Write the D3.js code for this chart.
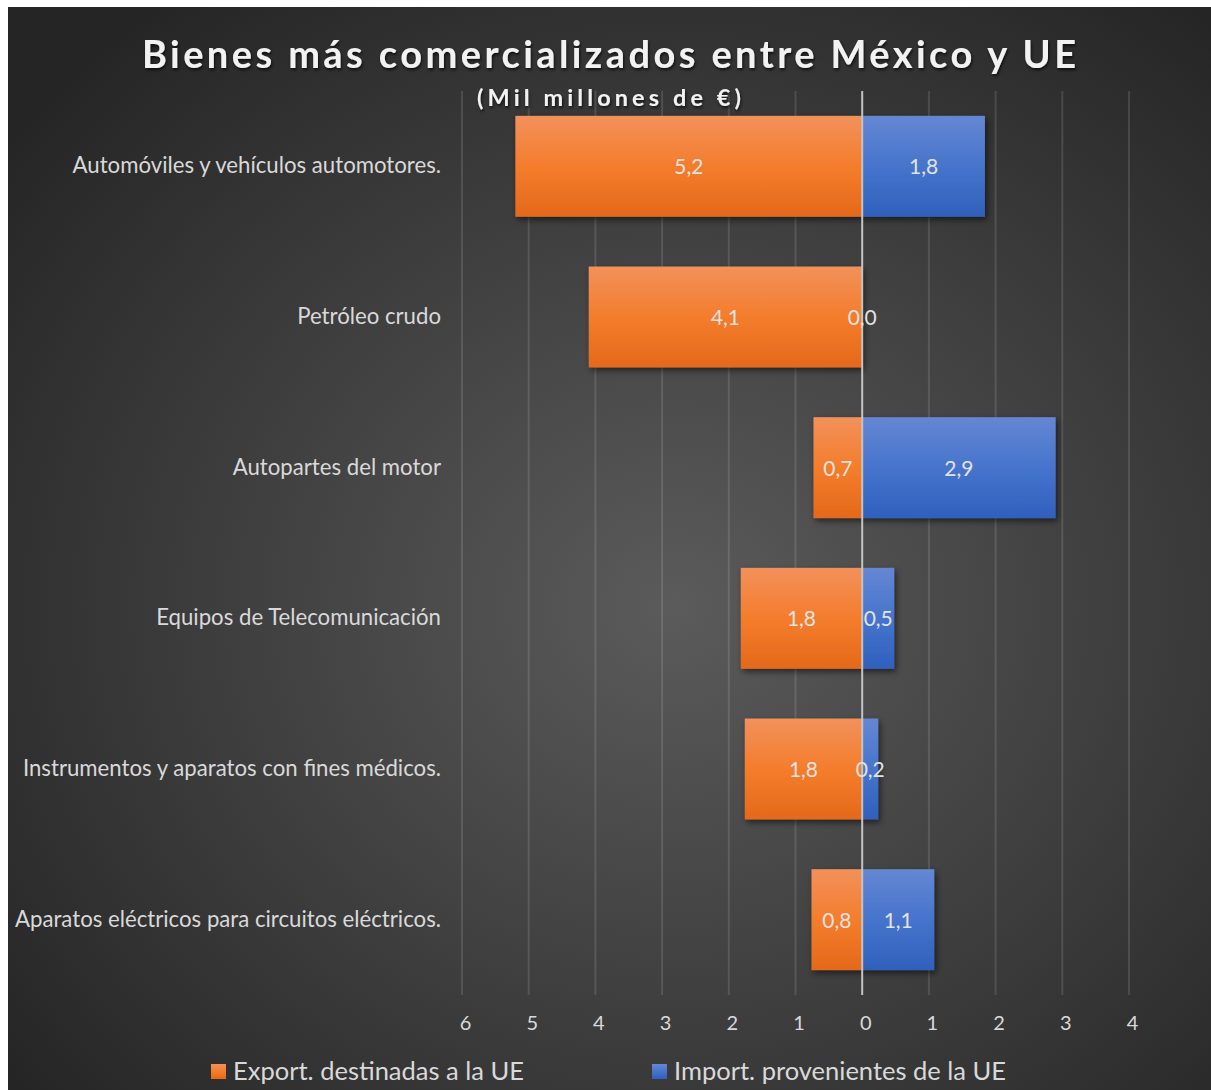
<!DOCTYPE html>
<html>
<head>
<meta charset="utf-8">
<script src="https://cdn.jsdelivr.net/npm/d3@7"></script>
<style>
  body { margin: 0; background: #fff; }
  svg { display: block; }
  text { font-family: Lato, "Open Sans", sans-serif; }
</style>
</head>
<body>
<svg id="chart" width="1211" height="1090"></svg>
<script>
var categories = [
  "Automóviles y vehículos automotores.",
  "Petróleo crudo",
  "Autopartes del motor",
  "Equipos de Telecomunicación",
  "Instrumentos y aparatos con fines médicos.",
  "Aparatos eléctricos para circuitos eléctricos."
];
var exportsUE = [5.2, 4.1, 0.73, 1.82, 1.76, 0.76];
var importsUE = [1.84, 0.0, 2.9, 0.48, 0.24, 1.08];
var tickValues = [-6, -5, -4, -3, -2, -1, 0, 1, 2, 3, 4];
var seriesNames = ["Export. destinadas a la UE", "Import. provenientes de la UE"];

var svg = d3.select("#chart");
var defs = svg.append("defs");

var bg = defs.append("radialGradient").attr("id", "bg")
    .attr("cx", "55%").attr("cy", "55%").attr("r", "70%");
bg.append("stop").attr("offset", "0%").attr("stop-color", "#5b5b5b");
bg.append("stop").attr("offset", "100%").attr("stop-color", "#252525");

function vgrad(id, top, mid, bottom) {
  var g = defs.append("linearGradient").attr("id", id)
      .attr("x1", 0).attr("y1", 0).attr("x2", 0).attr("y2", 1);
  g.append("stop").attr("offset", "0%").attr("stop-color", top);
  g.append("stop").attr("offset", "50%").attr("stop-color", mid);
  g.append("stop").attr("offset", "100%").attr("stop-color", bottom);
}
vgrad("gOrange", "#f2915b", "#f47d2c", "#e4691a");
vgrad("gBlue", "#6587d3", "#4674cc", "#2f60bc");

var shadow = defs.append("filter").attr("id", "shadow")
    .attr("x", "-10%").attr("y", "-10%").attr("width", "130%").attr("height", "140%");
shadow.append("feDropShadow").attr("dx", 2).attr("dy", 3)
    .attr("stdDeviation", 3).attr("flood-color", "#000").attr("flood-opacity", 0.55);

var tshadow = defs.append("filter").attr("id", "tshadow")
    .attr("x", "-5%").attr("y", "-20%").attr("width", "110%").attr("height", "160%");
tshadow.append("feDropShadow").attr("dx", 1).attr("dy", 2)
    .attr("stdDeviation", 1.5).attr("flood-color", "#000").attr("flood-opacity", 0.7);

svg.append("rect").attr("x", 8).attr("y", 7).attr("width", 1211).attr("height", 1090)
    .attr("fill", "url(#bg)");

var x = d3.scaleLinear().domain([-6, 4]).range([462, 1129]);
var y = d3.scaleBand().domain(categories).range([91, 995]).paddingInner(0.33).paddingOuter(0.165);

// gridlines
svg.append("g").selectAll("line")
  .data(tickValues.filter(function(t) { return t !== 0; }))
  .enter().append("line")
    .attr("x1", function(d) { return x(d); })
    .attr("x2", function(d) { return x(d); })
    .attr("y1", 91).attr("y2", 995)
    .attr("stroke", "#ffffff").attr("stroke-opacity", 0.12).attr("stroke-width", 2);

// bars
var rows = categories.map(function(c, i) { return { name: c, ex: exportsUE[i], im: importsUE[i] }; });

var bars = svg.append("g").attr("filter", "url(#shadow)");
bars.selectAll(".ex").data(rows).enter().append("rect")
    .attr("class", "ex")
    .attr("x", function(d) { return x(-d.ex); })
    .attr("y", function(d) { return y(d.name); })
    .attr("width", function(d) { return x(0) - x(-d.ex); })
    .attr("height", y.bandwidth())
    .attr("fill", "url(#gOrange)");
bars.selectAll(".im").data(rows).enter().append("rect")
    .attr("class", "im")
    .attr("x", x(0))
    .attr("y", function(d) { return y(d.name); })
    .attr("width", function(d) { return x(d.im) - x(0); })
    .attr("height", y.bandwidth())
    .attr("fill", "url(#gBlue)");

// zero line
svg.append("line")
    .attr("x1", x(0)).attr("x2", x(0)).attr("y1", 91).attr("y2", 995)
    .attr("stroke", "#c4c4c4").attr("stroke-width", 2);

function fmt(v) { return v.toFixed(1).replace(".", ","); }

// data labels
var labels = svg.append("g").attr("font-size", 21).attr("fill", "#e2e2e2").attr("text-anchor", "middle");
labels.selectAll(".lex").data(rows).enter().append("text")
    .attr("x", function(d) { return (x(-d.ex) + x(0)) / 2; })
    .attr("y", function(d) { return y(d.name) + y.bandwidth() / 2 + 8; })
    .text(function(d) { return fmt(d.ex); });
labels.selectAll(".lim").data(rows).enter().append("text")
    .attr("x", function(d) { return (x(d.im) + x(0)) / 2; })
    .attr("y", function(d) { return y(d.name) + y.bandwidth() / 2 + 8; })
    .text(function(d) { return fmt(d.im); });

// category axis labels
svg.append("g").attr("font-size", 22.2).attr("fill", "#d9d9d9").attr("text-anchor", "end")
  .selectAll("text").data(categories).enter().append("text")
    .attr("x", 441)
    .attr("y", function(d) { return y(d) + y.bandwidth() / 2 + 7; })
    .text(function(d) { return d; });

// x axis
var xAxis = svg.append("g")
    .attr("transform", "translate(3,1030)")
    .call(d3.axisBottom(x).tickValues(tickValues).tickSize(0).tickPadding(0)
      .tickFormat(function(d) { return Math.abs(d); }));
xAxis.select(".domain").remove();
xAxis.selectAll("text").attr("font-size", 20).attr("fill", "#d9d9d9")
    .attr("font-family", "Lato, sans-serif").attr("dy", 0);

// title
svg.append("text").attr("x", 609).attr("y", 68).attr("text-anchor", "middle")
    .attr("font-size", 38).attr("font-weight", "bold").attr("fill", "#f2f2f2")
    .attr("textLength", 934).attr("lengthAdjust", "spacing")
    .attr("filter", "url(#tshadow)")
    .text("Bienes más comercializados entre México y UE");
svg.append("text").attr("x", 609).attr("y", 106).attr("text-anchor", "middle")
    .attr("font-size", 23.5).attr("font-weight", "bold").attr("fill", "#f2f2f2")
    .attr("textLength", 264).attr("lengthAdjust", "spacing")
    .attr("filter", "url(#tshadow)")
    .text("(Mil millones de €)");

// legend
var legendX = [211, 652];
var legendColors = ["url(#gOrange)", "url(#gBlue)"];
var legend = svg.append("g").selectAll("g").data(seriesNames).enter().append("g")
    .attr("transform", function(d, i) { return "translate(" + legendX[i] + ",1064)"; });
legend.append("rect").attr("width", 15).attr("height", 15)
    .attr("fill", function(d, i) { return legendColors[i]; });
legend.append("text").attr("x", 22).attr("y", 16)
    .attr("font-size", 25.5).attr("fill", "#d9d9d9")
    .text(function(d) { return d; });
</script>
</body>
</html>
